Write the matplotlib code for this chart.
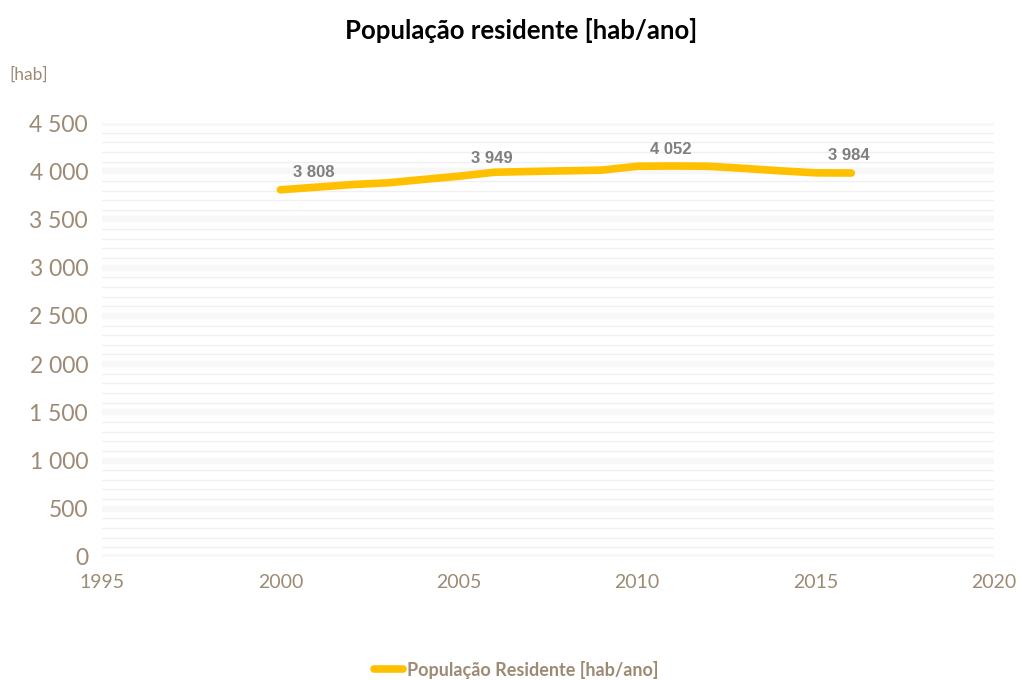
import numpy as np
import matplotlib.pyplot as plt
from matplotlib.ticker import MultipleLocator, FuncFormatter

# valores
anos = [2000, 2001, 2002, 2003, 2004, 2005, 2006, 2007, 2008,
        2009, 2010, 2011, 2012, 2013, 2014, 2015, 2016]
populacao = [3808, 3835, 3862, 3880, 3915, 3949, 3990, 3998, 4005,
             4012, 4052, 4055, 4052, 4030, 4005, 3984, 3982]
anos_rotulo = [2000, 2005, 2010, 2015]

cor_linha = '#FFC000'
cor_texto = '#9C8A74'
fonte = ['Lato', 'DejaVu Sans']


def fmt_milhares(v, pos):
    return '{:,.0f}'.format(v).replace(',', ' ')


fig = plt.figure(figsize=(10.22, 6.8), dpi=100)
ax = fig.add_axes([0.0998, 0.181, 0.8728, 0.638])

ax.plot(anos, populacao, color=cor_linha, linewidth=5.5,
        solid_capstyle='round', solid_joinstyle='round', zorder=3,
        label='População Residente [hab/ano]')

for a in anos_rotulo:
    v = populacao[anos.index(a)]
    ax.annotate(fmt_milhares(v, None), (a, v), xytext=(24, 7),
                textcoords='offset points', ha='center', va='bottom',
                fontsize=12, fontweight='bold', color='#7F7F7F',
                family=['Liberation Sans', 'DejaVu Sans'])

ax.set_xlim(1995, 2020)
ax.set_ylim(0, 4500)
ax.xaxis.set_major_locator(MultipleLocator(5))
ax.yaxis.set_major_locator(MultipleLocator(500))
ax.yaxis.set_minor_locator(MultipleLocator(100))
ax.yaxis.set_major_formatter(FuncFormatter(fmt_milhares))

ax.grid(axis='y', which='major', color='#F7F7F7', linewidth=4.5, zorder=0)
ax.grid(axis='y', which='minor', color='#F0F0F0', linewidth=1.0, zorder=0)
ax.grid(axis='x', visible=False)
for s in ax.spines.values():
    s.set_visible(False)
ax.tick_params(axis='both', which='both', length=0)
ax.tick_params(axis='y', pad=10, labelsize=16.5, labelcolor=cor_texto)
ax.tick_params(axis='x', pad=12, labelsize=14, labelcolor=cor_texto)
for t in ax.get_xticklabels() + ax.get_yticklabels():
    t.set_family(fonte)

fig.text(0.51, 0.955, 'População residente [hab/ano]', ha='center', va='center',
         fontsize=18.5, fontweight='bold', color='black', family=fonte)
fig.text(0.009, 0.89, '[hab]', ha='left', va='center', fontsize=12.5,
         color=cor_texto, family=fonte)

leg = fig.legend(loc='center', bbox_to_anchor=(0.505, 0.015), frameon=False,
                 handlelength=1.6, handletextpad=0.2,
                 prop={'family': fonte, 'weight': 'bold', 'size': 13})
for t in leg.get_texts():
    t.set_color(cor_texto)

fig.savefig('out.png', dpi=100)
